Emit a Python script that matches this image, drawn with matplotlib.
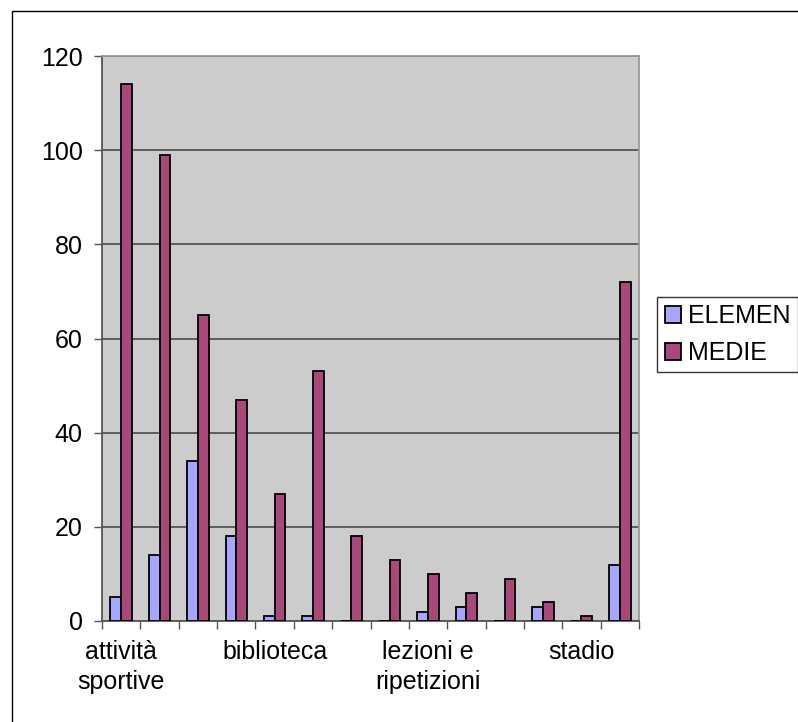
import matplotlib.pyplot as plt
import matplotlib.patches as mpatches
import numpy as np

plt.rcParams['font.family'] = ['Liberation Sans', 'DejaVu Sans']

# data
categories = ['attività\nsportive', '', '', '', 'biblioteca', '', '', '',
              'lezioni e\nripetizioni', '', '', '', 'stadio', '']
elemen = [5, 14, 34, 18, 1, 1, 0, 0, 2, 3, 0, 3, 0, 12]
medie = [114, 99, 65, 47, 27, 53, 18, 13, 10, 6, 9, 4, 1, 72]
series_names = ['ELEMEN', 'MEDIE']
yticks = [0, 20, 40, 60, 80, 100, 120]

c_el = '#a6a6ff'
c_me = '#a8497a'
fs = 18

W, H = 798, 722
fig = plt.figure(figsize=(W / 100, H / 100), dpi=100)
ax = fig.add_axes([102 / W, 1 - 621 / H, (639 - 102) / W, (621 - 56) / H])
ax.set_facecolor('#cccccc')

n = len(categories)
x = np.arange(n)
w = 0.28
ax.bar(x - w / 2, elemen, w, color=c_el, edgecolor='black', linewidth=1.3, zorder=3)
ax.bar(x + w / 2, medie, w, color=c_me, edgecolor='black', linewidth=1.3, zorder=3)

ax.set_xlim(-0.5, n - 0.5)
ax.set_ylim(0, 120)
ax.set_yticks(yticks)
ax.set_yticklabels([str(v) for v in yticks], fontsize=fs)
ax.yaxis.grid(True, color='#555555', linewidth=1.3, zorder=1)
ax.tick_params(axis='y', length=6, width=1, color='#555555', pad=8)

# boundary ticks between categories, labels only on some categories
ax.set_xticks(np.arange(-0.5, n, 1.0), minor=True)
lab_idx = [i for i, c in enumerate(categories) if c]
ax.set_xticks(lab_idx)
ax.set_xticklabels([categories[i] for i in lab_idx], fontsize=fs, linespacing=1.3)
ax.tick_params(axis='x', which='major', length=0, pad=14)
ax.tick_params(axis='x', which='minor', length=6, width=1, color='#555555')

for s in ['left', 'bottom']:
    ax.spines[s].set_color('#555555')
    ax.spines[s].set_linewidth(1.3)
for s in ['top', 'right']:
    ax.spines[s].set_color('#999999')
    ax.spines[s].set_linewidth(1.3)

handles = [mpatches.Patch(facecolor=c_el, edgecolor='black', linewidth=1.3),
           mpatches.Patch(facecolor=c_me, edgecolor='black', linewidth=1.3)]
leg = fig.legend(handles, series_names, loc='upper left',
                 bbox_to_anchor=(657 / W, 1 - 297 / H), fontsize=fs,
                 frameon=True, fancybox=False, edgecolor='black',
                 handlelength=0.65, handleheight=0.65, handletextpad=0.3,
                 borderpad=0.3, labelspacing=0.5, borderaxespad=0)
leg.get_frame().set_linewidth(1)

# outer chart border
fig.patches.append(mpatches.Rectangle((12 / W, -0.1), 2, 1 - 11 / H + 0.1,
                                      transform=fig.transFigure, fill=False,
                                      edgecolor='black', linewidth=1))

fig.savefig('out.png', dpi=100)
